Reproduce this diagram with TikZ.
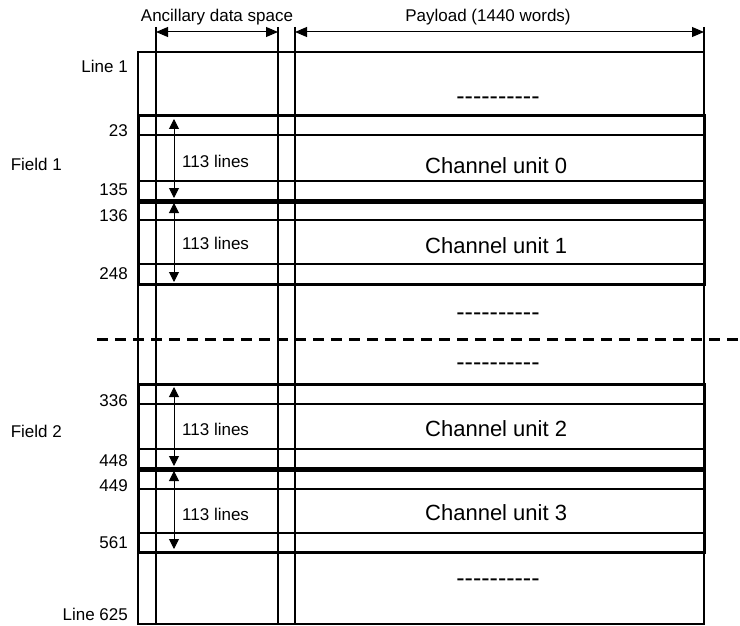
\documentclass[tikz,border=0pt]{standalone}
\usepackage{fontspec}
\setmainfont{Liberation Sans}
\usetikzlibrary{arrows.meta}
\newcommand{\hyphenrow}{-{}-{}-{}-{}-{}-{}-{}-{}-{}-}
\begin{document}
\begin{tikzpicture}[x=1pt,y=-1pt,
  lbl/.style={font=\fontsize{17}{20}\selectfont, inner sep=0pt, text depth=0pt},
  big/.style={font=\fontsize{22}{26}\selectfont, inner sep=0pt, text depth=0pt},
  dots/.style={font=\fontsize{25}{28}\selectfont, inner sep=0pt, anchor=base},
  thinline/.style={line width=1.5pt},
  framebox/.style={line width=2pt},
  unitbox/.style={line width=3pt},
  dimarrow/.style={line width=1pt, {Triangle[length=12pt,width=10pt]}-{Triangle[length=12pt,width=10pt]}},
  linesarrow/.style={line width=1pt, {Triangle[length=10pt,width=10pt]}-{Triangle[length=10pt,width=10pt]}},
  sep/.style={line width=3pt, dash pattern=on 11pt off 7pt}
  ]
\useasboundingbox (0,0) rectangle (740,626);

% unit inner lines
\foreach \ya/\yb in {135/181, 220/264, 404/449, 489/533}{
  \draw[thinline] (138,\ya) -- (704,\ya);
  \draw[thinline] (138,\yb) -- (704,\yb);
}

% frame and verticals
\draw[framebox] (138,52) rectangle (704,624);
\draw[thinline] (156,27) -- (156,624);
\draw[thinline] (278,27) -- (278,624);
\draw[thinline] (295,27) -- (295,624);
\draw[thinline] (704,27) -- (704,52);

% channel unit boxes
\draw[unitbox] (138,116) rectangle (704,200);
\draw[unitbox] (138,202) rectangle (704,284);
\draw[unitbox] (138,384) rectangle (704,468);
\draw[unitbox] (138,470) rectangle (704,552);

% top dimension arrows
\coordinate (a1) at (156,32);
\coordinate (a2) at (278,32);
\coordinate (p1) at (295,32);
\coordinate (p2) at (704,32);
\draw[dimarrow] (a1) -- (a2);
\draw[dimarrow] (p1) -- (p2);
\node[lbl] (anc) at (217,15.5) {Ancillary data space};
\node[lbl] (pay) at (488,15.5) {Payload (1440 words)};

% line-count arrows
\coordinate (u0t) at (174,119);  \coordinate (u0b) at (174,198);
\coordinate (u1t) at (174,203);  \coordinate (u1b) at (174,282);
\coordinate (u2t) at (174,387);  \coordinate (u2b) at (174,466);
\coordinate (u3t) at (174,471);  \coordinate (u3b) at (174,549);
\draw[linesarrow] (u0t) -- (u0b);
\draw[linesarrow] (u1t) -- (u1b);
\draw[linesarrow] (u2t) -- (u2b);
\draw[linesarrow] (u3t) -- (u3b);
\node[lbl, anchor=west] (n0) at (182,161.5) {113 lines};
\node[lbl, anchor=west] (n1) at (182,243.5) {113 lines};
\node[lbl, anchor=west] (n2) at (182,429.5) {113 lines};
\node[lbl, anchor=west] (n3) at (182,514) {113 lines};

% channel unit labels
\node[big, anchor=west] (c0) at (425,165.5) {Channel unit 0};
\node[big, anchor=west] (c1) at (425,246) {Channel unit 1};
\node[big, anchor=west] (c2) at (425,428.5) {Channel unit 2};
\node[big, anchor=west] (c3) at (425,513) {Channel unit 3};

% ellipsis dashes
\node[dots] (d0) at (498,105) {\hyphenrow};
\node[dots] (d1) at (498,320) {\hyphenrow};
\node[dots] (d2) at (498,370) {\hyphenrow};
\node[dots] (d3) at (498,586) {\hyphenrow};

% field separator
\coordinate (s1) at (97,339);
\coordinate (s2) at (740,339);
\draw[sep] (s1) -- (s2);

% line numbers
\node[lbl, anchor=east] (l1) at (128,66) {Line 1};
\node[lbl, anchor=east] (l23) at (128,131) {23};
\node[lbl, anchor=east] (l135) at (128,190) {135};
\node[lbl, anchor=east] (l136) at (128,216) {136};
\node[lbl, anchor=east] (l248) at (128,274) {248};
\node[lbl, anchor=east] (l336) at (128,401) {336};
\node[lbl, anchor=east] (l448) at (128,461) {448};
\node[lbl, anchor=east] (l449) at (128,486) {449};
\node[lbl, anchor=east] (l561) at (128,543) {561};
\node[lbl, anchor=east] (l625) at (128,614) {Line 625};

% field labels
\node[lbl, anchor=east] (f1) at (62,164) {Field 1};
\node[lbl, anchor=east] (f2) at (62,431) {Field 2};
\end{tikzpicture}
\end{document}
